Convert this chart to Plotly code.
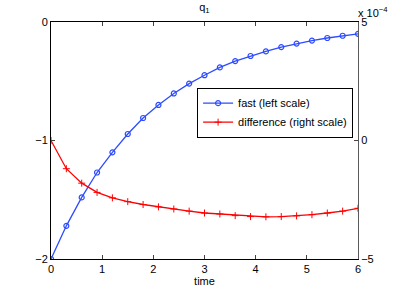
import plotly.graph_objects as go

time = [0.0, 0.3, 0.6, 0.9, 1.2, 1.5, 1.8, 2.1, 2.4, 2.7, 3.0,
        3.3, 3.6, 3.9, 4.2, 4.5, 4.8, 5.1, 5.4, 5.7, 6.0]
fast = [-2.0, -1.72, -1.48, -1.27, -1.10, -0.945, -0.81, -0.70, -0.603, -0.52, -0.449,
        -0.383, -0.33, -0.287, -0.248, -0.212, -0.182, -0.157, -0.135, -0.116, -0.10]
# difference in units of 1e-4
difference = [0.0, -1.19, -1.80, -2.19, -2.42, -2.58, -2.70, -2.80, -2.89, -2.98, -3.06,
              -3.10, -3.17, -3.21, -3.22, -3.21, -3.18, -3.13, -3.06, -2.98, -2.86]
x_ticks = [0, 1, 2, 3, 4, 5, 6]
left_ticks = [-2, -1, 0]
right_ticks = [-5, 0, 5]

FONT = "Liberation Sans, Arial, sans-serif"
BLUE = "rgb(45,75,255)"
RED = "rgb(255,0,0)"

fig = go.Figure()
fig.add_trace(go.Scatter(
    x=time, y=fast, name="fast (left scale)", mode="lines+markers",
    line=dict(color=BLUE, width=1.3),
    marker=dict(symbol="circle-open", size=5, color=BLUE, line=dict(width=1.2)),
    yaxis="y"))
fig.add_trace(go.Scatter(
    x=time, y=difference, name="difference (right scale)", mode="lines+markers",
    line=dict(color=RED, width=1.3),
    marker=dict(symbol="cross-thin-open", size=5, color=RED, line=dict(width=1, color=RED)),
    yaxis="y2"))

fig.update_layout(
    width=396, height=297,
    margin=dict(l=51, r=38, t=22, b=33),
    paper_bgcolor="white", plot_bgcolor="white",
    font=dict(family=FONT, size=11, color="black"),
    showlegend=True,
    title=dict(text="q<sub>1</sub>", x=0.516, xanchor="center", y=0.99, yanchor="top",
               font=dict(size=11)),
    xaxis=dict(range=[0, 6], tickvals=x_ticks, ticks="inside", ticklen=4,
               showline=True, linecolor="black", linewidth=1, mirror="ticks",
               showgrid=False, zeroline=False,
               title=dict(text="time", standoff=2, font=dict(size=11))),
    yaxis=dict(range=[-2, 0], tickvals=left_ticks, ticktext=["\u22122", "\u22121", "0"],
               ticks="inside", ticklen=4, showline=True, linecolor="black", linewidth=1,
               showgrid=False, zeroline=False),
    yaxis2=dict(range=[-5, 5], tickvals=right_ticks, ticktext=["\u22125", "0", "5"],
                overlaying="y", side="right", ticks="inside", ticklen=4,
                showline=True, linecolor="rgb(90,90,90)", linewidth=1,
                showgrid=False, zeroline=False),
    legend=dict(x=0.984, y=0.723, xanchor="right", yanchor="top",
                bordercolor="black", borderwidth=1, bgcolor="white",
                font=dict(size=11), itemwidth=30, tracegroupgap=0),
    annotations=[dict(text="x 10<sup>\u22124</sup>", xref="paper", yref="paper",
                      x=1, y=1, xanchor="left", yanchor="bottom", xshift=-2, yshift=1,
                      showarrow=False, font=dict(size=11))],
)

fig.write_html("out.html", config={"displayModeBar": False},
               post_script="document.body.style.margin='0';")
